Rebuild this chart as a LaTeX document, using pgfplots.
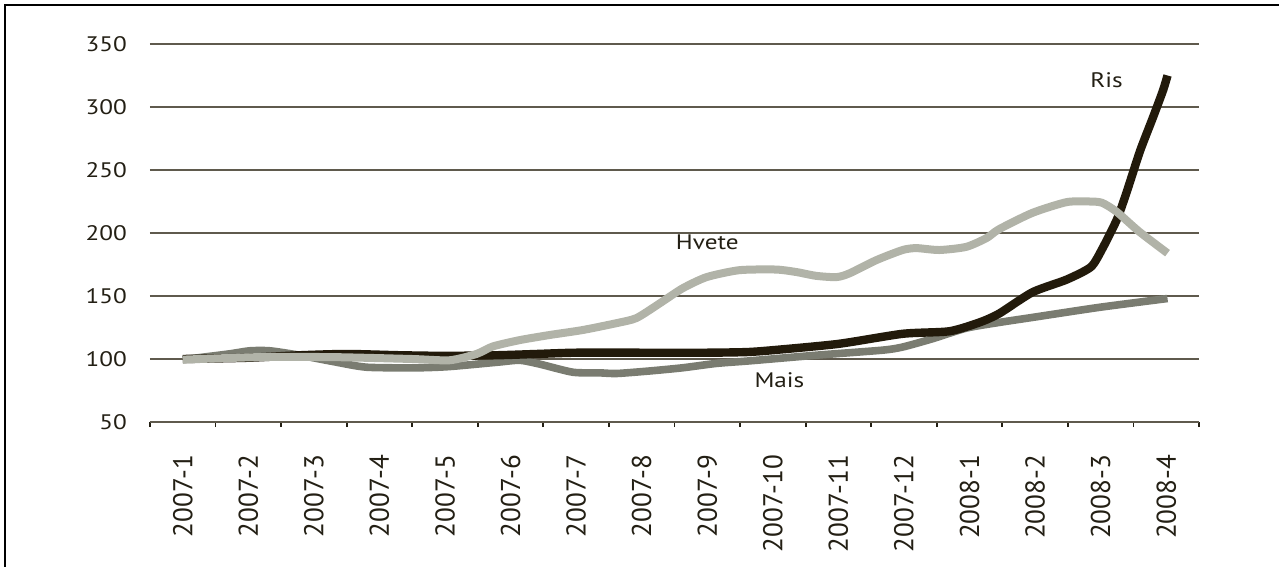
\documentclass[border=0pt]{standalone}
\usepackage{pgfplots}
\pgfplotsset{compat=1.18}
\usepackage{fontspec}
\setmainfont{PT Sans}
\newfontfamily\stfont[FakeStretch=1.2]{PT Sans}
\definecolor{ris}{HTML}{221A0B}
\definecolor{hvete}{HTML}{B1B3A8}
\definecolor{mais}{HTML}{7A7C71}
\definecolor{gridc}{HTML}{5F5A4D}
\definecolor{txt}{HTML}{231F14}
\begin{document}
\begin{tikzpicture}
\path[use as bounding box] (-75pt,-72.5pt) rectangle (564.5pt,211pt);
\draw[line width=1.1pt,black] (-72.5pt,-73pt) -- (-72.5pt,208.5pt) -- (565pt,208.5pt);
\begin{axis}[
  at={(0,0)}, anchor=south west,
  scale only axis, width=524.5pt, height=189pt,
  xmin=-0.5, xmax=15.5, ymin=50, ymax=350,
  ytick={50,100,...,350},
  ymajorgrids, grid style={draw=gridc, line width=0.7pt},
  axis x line*=bottom, axis y line*=left,
  x axis line style={draw=gridc, line width=0.7pt, -},
  y axis line style={draw=none},
  xtick={0,...,15},
  xticklabels={2007-1,2007-2,2007-3,2007-4,2007-5,2007-6,2007-7,2007-8,2007-9,2007-10,2007-11,2007-12,2008-1,2008-2,2008-3,2008-4},
  minor xtick={-0.5,0.5,...,15.5},
  tick align=outside,
  major tick length=0pt, minor tick length=2.6pt,
  minor x tick style={draw=txt, line width=0.9pt},
  xticklabel style={rotate=90, anchor=east, font=\fontsize{13.6}{14}\selectfont, text=txt},
  xticklabel shift={13pt},
  yticklabel style={font=\stfont\fontsize{10.5}{12}\selectfont, text=txt, xshift=-8pt},
  /pgf/number format/assume math mode=true,
  clip=false,
]
\addplot[mais, line width=3.8pt, smooth, tension=0.4, line join=round] coordinates {
(0,99.5) (0.7,104) (1.02,106.5) (1.33,106.5) (1.78,103) (2.29,98) (2.8,93.5) (3.57,93) (4.07,94) (4.83,97.6) (5.14,99) (5.44,96) (5.95,89.5) (6.36,89) (6.62,88.5) (7.12,90.5) (7.62,93) (8.14,96.5) (8.64,98.5) (9.66,103) (10.67,107) (10.98,109.5) (11.43,116) (11.95,124.5) (12.45,129) (12.96,133) (13.98,141) (15.02,148)
};
\addplot[ris, line width=4.2pt, smooth, tension=0.4, line join=round] coordinates {
(0,100) (1,101) (1.8,103) (2.5,104) (3.3,103) (4.0,102.5) (4.8,103) (5.4,104) (6.0,105) (7,105) (8,105) (8.6,105.5) (9.0,107) (10.0,112) (10.98,120) (11.69,122) (12.15,129) (12.45,136) (12.96,153) (13.48,163) (13.85,173) (14.02,187) (14.25,211) (14.4,233) (14.6,265) (14.8,292) (14.95,313) (15.02,325)
};
\addplot[hvete, line width=4pt, smooth, tension=0.4, line join=round] coordinates {
(0,99.5) (1.17,101.5) (2.29,101.5) (3.5,100) (4.07,99) (4.48,104) (4.73,110) (5.14,115) (5.59,119) (6.1,123) (6.62,128.5) (6.92,132.5) (7.27,144) (7.62,156) (7.99,165) (8.49,170.5) (9.05,171) (9.36,169) (9.66,166) (9.97,165) (10.17,168) (10.58,178.5) (10.98,186.5) (11.19,188) (11.54,186.5) (11.95,189) (12.26,196) (12.45,203) (12.96,216) (13.48,224.5) (13.83,225) (14.02,224) (14.24,217) (14.59,201) (15.02,184)
};
\node[text=txt, font=\stfont\fontsize{10.5}{12}\selectfont] at (axis cs:14.09,321.4) {Ris};
\node[text=txt, font=\stfont\fontsize{10.5}{12}\selectfont] at (axis cs:8.0,192.9) {Hvete};
\node[text=txt, font=\stfont\fontsize{10.5}{12}\selectfont] at (axis cs:9.1,83.3) {Mais};
\end{axis}
\end{tikzpicture}
\end{document}
